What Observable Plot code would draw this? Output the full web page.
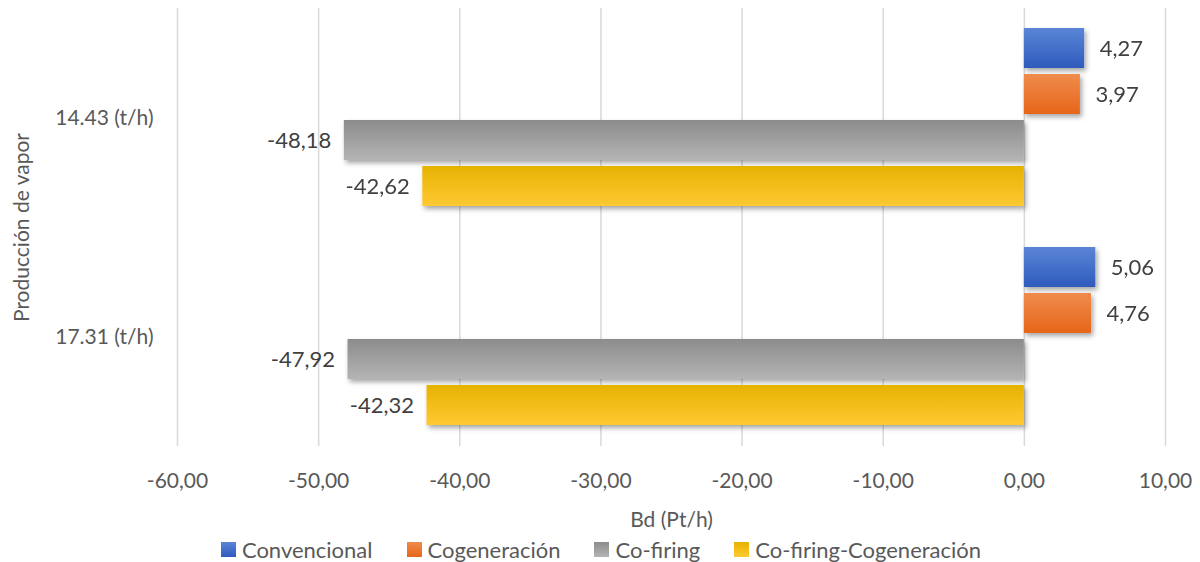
<!DOCTYPE html>
<html>
<head>
<meta charset="utf-8">
<script src="https://cdn.jsdelivr.net/npm/d3@7"></script>
<script src="https://cdn.jsdelivr.net/npm/@observablehq/plot@0.6"></script>
<style>
  html, body { margin: 0; padding: 0; background: #fff; }
  body { width: 1200px; height: 562px; overflow: hidden; font-family: Lato, "Open Sans", sans-serif; }
  #legend { display: flex; justify-content: center; align-items: center; height: 32px; padding-top: 3px; margin-left: 2px;
            font-family: Lato, sans-serif; font-size: 22px; color: #595959; }
  .item { display: flex; align-items: center; margin: 0 17px; }
  .sw { width: 15px; height: 15px; margin-right: 6px; }
</style>
</head>
<body>
<div id="chart"></div>
<div id="legend"></div>
<script>
// ---- data ----
const categories = ["14.43 (t/h)", "17.31 (t/h)"];
const seriesNames = ["Convencional", "Cogeneración", "Co-firing", "Co-firing-Cogeneración"];
const valuesConvencional = [4.27, 5.06];
const valuesCogeneracion = [3.97, 4.76];
const valuesCofiring = [-48.18, -47.92];
const valuesCofiringCogeneracion = [-42.62, -42.32];
const xTicks = [-60, -50, -40, -30, -20, -10, 0, 10];
const seriesColors = ["#4472C4", "#ED7D31", "#A5A5A5", "#FFC000"];
const gradientStops = [["#5b85d6", "#2e5bbc"], ["#f08b4c", "#e6661a"], ["#8c8c8c", "#b4b4b4"], ["#e6b200", "#ffc933"]];

const seriesValues = [valuesConvencional, valuesCogeneracion, valuesCofiring, valuesCofiringCogeneracion];
const rows = [];
categories.forEach((c, ci) => seriesNames.forEach((s, si) => rows.push({category: c, series: s, si, value: seriesValues[si][ci]})));

const fmt = d => d.toFixed(2).replace(".", ",");

const barMarks = seriesNames.map((s, si) =>
  Plot.barX(rows.filter(r => r.si === si), {x: "value", y: "series", fy: "category", fill: `url(#grad${si})`})
);

const chart = Plot.plot({
  width: 1200,
  height: 530,
  marginLeft: 177,
  marginRight: 35,
  marginTop: 8,
  marginBottom: 84,
  style: {fontFamily: "Lato, sans-serif", background: "#fff"},
  x: {domain: [-60, 10]},
  y: {domain: seriesNames, paddingInner: 0.13, paddingOuter: 0.44, axis: null},
  fy: {domain: categories, padding: 0},
  marks: [
    Plot.ruleX(xTicks, {stroke: "#d9d9d9", strokeWidth: 1.5}),
    ...barMarks,
    Plot.text(rows.filter(r => r.value >= 0), {x: "value", y: "series", fy: "category", text: d => fmt(d.value),
      textAnchor: "start", dx: 15, fontSize: 22, fill: "#404040"}),
    Plot.text(rows.filter(r => r.value < 0), {x: "value", y: "series", fy: "category", text: d => fmt(d.value),
      textAnchor: "end", dx: -13, fontSize: 22, fill: "#404040"}),
    Plot.axisX({ticks: xTicks, tickSize: 0, tickPadding: 27, tickFormat: fmt, fontSize: 21, color: "#595959",
      label: "Bd (Pt/h)", labelAnchor: "center", labelOffset: 80, labelArrow: "none"}),
    Plot.axisFy({anchor: "left", tickSize: 0, tickPadding: 24, fontSize: 21, color: "#595959",
      label: "Producción de vapor", labelAnchor: "center", labelOffset: 163, labelArrow: "none"})
  ]
});

// gradients + shadow
const ns = "http://www.w3.org/2000/svg";
const defs = document.createElementNS(ns, "defs");
gradientStops.forEach((g, i) => {
  const lg = document.createElementNS(ns, "linearGradient");
  lg.setAttribute("id", `grad${i}`);
  lg.setAttribute("x1", "0"); lg.setAttribute("y1", "0"); lg.setAttribute("x2", "0"); lg.setAttribute("y2", "1");
  [[0, g[0]], [1, g[1]]].forEach(([o, c]) => {
    const st = document.createElementNS(ns, "stop");
    st.setAttribute("offset", o); st.setAttribute("stop-color", c);
    lg.appendChild(st);
  });
  defs.appendChild(lg);
});
const filt = document.createElementNS(ns, "filter");
filt.setAttribute("id", "shadow");
filt.setAttribute("x", "-10%"); filt.setAttribute("y", "-20%"); filt.setAttribute("width", "130%"); filt.setAttribute("height", "160%");
const ds = document.createElementNS(ns, "feDropShadow");
ds.setAttribute("dx", "2"); ds.setAttribute("dy", "3"); ds.setAttribute("stdDeviation", "2.5");
ds.setAttribute("flood-color", "#000"); ds.setAttribute("flood-opacity", "0.35");
filt.appendChild(ds);
defs.appendChild(filt);
chart.insertBefore(defs, chart.firstChild);
chart.querySelectorAll('g[aria-label="bar"]').forEach(g => g.setAttribute("filter", "url(#shadow)"));

document.getElementById("chart").appendChild(chart);

// legend
const legend = document.getElementById("legend");
seriesNames.forEach((s, i) => {
  const it = document.createElement("div");
  it.className = "item";
  const sw = document.createElement("div");
  sw.className = "sw";
  sw.style.background = `linear-gradient(${gradientStops[i][0]}, ${gradientStops[i][1]})`;
  const t = document.createElement("span");
  t.textContent = s;
  it.appendChild(sw); it.appendChild(t);
  legend.appendChild(it);
});
</script>
</body>
</html>
